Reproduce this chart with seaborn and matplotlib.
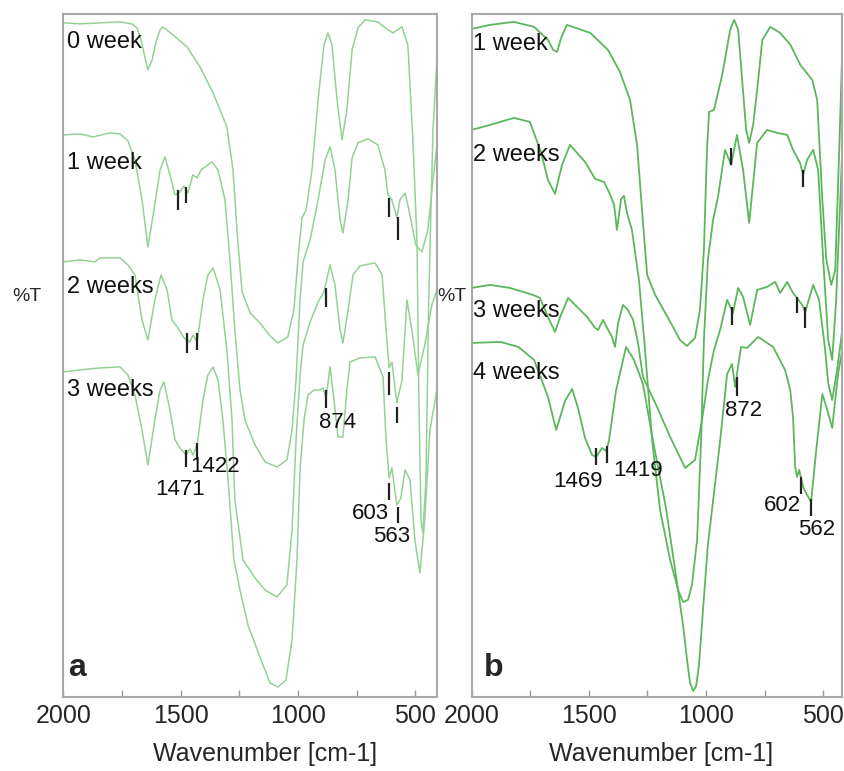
import pandas as pd
import matplotlib
matplotlib.use("Agg")
import matplotlib.pyplot as plt
import seaborn as sns

# ---- panel a : wavenumber (cm-1) / relative %T (offset traces) ----
a_labels = ["0 week", "1 week", "2 weeks", "3 weeks"]

a0_wn = [2000, 1930, 1844, 1759, 1708, 1686, 1669, 1652, 1640, 1622, 1605, 1588, 1576, 1533, 1473, 1418, 1362, 1303,
         1277, 1256, 1238, 1204, 1162, 1119, 1085, 1043, 1017, 1000, 983, 965, 940, 914, 889, 872, 855, 833, 812, 791,
         769, 744, 714, 659, 616, 594, 556, 531, 509, 492, 484, 475, 467, 454, 442, 424, 407]
a0_t = [674, 673, 674, 675, 673, 669, 657, 639, 627, 637, 655, 667, 670, 662, 650, 630, 604, 570, 527, 454, 405, 384,
        374, 361, 354, 360, 387, 437, 479, 487, 527, 597, 652, 664, 652, 597, 557, 587, 647, 669, 677, 675, 667, 664,
        670, 652, 554, 454, 297, 177, 164, 217, 397, 567, 637]

a1_wn = [2000, 1930, 1874, 1802, 1759, 1725, 1695, 1665, 1640, 1614, 1588, 1567, 1546, 1524, 1503, 1486, 1469, 1448,
         1430, 1413, 1367, 1341, 1311, 1290, 1269, 1247, 1226, 1183, 1140, 1089, 1047, 1025, 1008, 991, 978, 948, 914,
         884, 863, 842, 820, 808, 786, 769, 744, 701, 659, 629, 616, 599, 578, 565, 543, 522, 497, 471, 446, 424, 407]
a1_t = [562, 563, 560, 564, 563, 556, 537, 497, 450, 487, 527, 540, 522, 502, 505, 511, 504, 522, 519, 527, 535, 527,
        497, 437, 367, 307, 277, 252, 235, 230, 237, 267, 317, 397, 435, 457, 497, 537, 550, 527, 477, 464, 497, 539,
        554, 558, 552, 527, 502, 497, 479, 497, 504, 482, 452, 445, 467, 517, 552]

a2_wn = [2000, 1930, 1866, 1844, 1759, 1725, 1695, 1665, 1640, 1610, 1584, 1558, 1537, 1512, 1486, 1460, 1448, 1430,
         1405, 1384, 1362, 1332, 1303, 1281, 1269, 1234, 1183, 1140, 1089, 1047, 1025, 1008, 991, 978, 948, 914, 889,
         863, 842, 820, 808, 786, 765, 735, 671, 641, 624, 611, 599, 578, 556, 535, 514, 488, 459, 429, 407]
a2_t = [435, 437, 435, 439, 439, 432, 422, 377, 357, 397, 422, 407, 377, 369, 359, 355, 362, 355, 397, 422, 429, 407,
        347, 277, 197, 137, 119, 107, 100, 112, 167, 257, 322, 352, 375, 395, 405, 432, 412, 367, 354, 387, 422, 431,
        434, 422, 367, 329, 335, 294, 317, 397, 367, 322, 352, 392, 407]

a3_wn = [2000, 1930, 1844, 1759, 1725, 1695, 1665, 1640, 1610, 1588, 1571, 1546, 1524, 1503, 1477, 1460, 1448, 1430,
         1405, 1384, 1362, 1341, 1320, 1298, 1273, 1247, 1213, 1162, 1119, 1085, 1051, 1025, 1004, 991, 974, 957, 931,
         906, 893, 880, 863, 846, 829, 808, 791, 778, 735, 671, 637, 624, 611, 599, 578, 561, 543, 522, 501, 480, 459,
         437, 407]
a3_t = [325, 327, 329, 330, 322, 302, 267, 232, 277, 307, 315, 287, 257, 249, 242, 248, 242, 252, 297, 322, 330, 317,
        277, 217, 137, 107, 72, 40, 14, 10, 17, 57, 137, 227, 277, 302, 307, 307, 309, 299, 330, 297, 260, 260, 307,
        335, 339, 340, 320, 257, 219, 229, 192, 199, 227, 217, 157, 124, 177, 267, 307]

# ---- panel b ----
b_labels = ["1 week", "2 weeks", "3 weeks", "4 weeks"]

b1_wn = [2000, 1921, 1819, 1733, 1674, 1652, 1635, 1618, 1593, 1494, 1418, 1367, 1324, 1294, 1273, 1251, 1217, 1162,
         1111, 1081, 1047, 1026, 1009, 996, 987, 966, 931, 897, 880, 863, 846, 829, 816, 799, 782, 760, 726, 684, 640,
         598, 547, 526, 504, 487, 466, 449, 432, 419]
b1_t = [668, 672, 675, 670, 657, 647, 645, 659, 672, 664, 647, 625, 597, 552, 487, 422, 402, 379, 357, 351, 359, 387,
        447, 547, 585, 587, 622, 667, 677, 667, 617, 567, 554, 572, 607, 657, 670, 664, 652, 632, 617, 597, 497, 437,
        412, 427, 547, 647]

b2_wn = [2000, 1921, 1819, 1751, 1704, 1674, 1644, 1614, 1580, 1516, 1473, 1435, 1414, 1392, 1380, 1362, 1350, 1337,
         1316, 1286, 1260, 1230, 1196, 1153, 1119, 1098, 1077, 1060, 1038, 1021, 1009, 992, 970, 949, 919, 893, 868,
         842, 816, 782, 740, 697, 654, 629, 599, 586, 569, 543, 522, 501, 479, 462, 445, 419]
b2_t = [567, 572, 579, 575, 545, 517, 503, 532, 552, 535, 518, 515, 505, 492, 467, 498, 501, 484, 467, 417, 347, 257,
        187, 137, 107, 95, 97, 112, 157, 257, 357, 437, 477, 500, 547, 532, 562, 527, 474, 554, 567, 564, 562, 547,
        534, 522, 537, 547, 527, 440, 357, 337, 397, 547]

b3_wn = [2000, 1921, 1836, 1738, 1708, 1674, 1644, 1622, 1588, 1550, 1507, 1473, 1460, 1439, 1422, 1401, 1388, 1375,
         1354, 1333, 1311, 1290, 1269, 1209, 1153, 1089, 1047, 1017, 992, 966, 940, 910, 885, 863, 842, 812, 782, 740,
         705, 684, 654, 629, 612, 590, 577, 543, 518, 492, 479, 462, 441, 419]
b3_t = [409, 412, 409, 402, 399, 380, 365, 380, 399, 390, 380, 369, 367, 377, 369, 360, 350, 374, 392, 387, 377, 354,
        320, 290, 260, 229, 237, 277, 317, 347, 367, 397, 384, 409, 400, 372, 407, 410, 415, 404, 415, 404, 399, 392,
        385, 412, 397, 347, 314, 297, 327, 367]

b4_wn = [2000, 1877, 1800, 1733, 1674, 1639, 1601, 1571, 1546, 1516, 1486, 1469, 1443, 1426, 1414, 1384, 1341, 1307,
         1269, 1226, 1170, 1128, 1098, 1081, 1068, 1055, 1042, 1030, 1013, 992, 974, 940, 910, 889, 876, 851, 825, 778,
         714, 663, 641, 629, 620, 612, 603, 586, 569, 552, 530, 504, 483, 462, 437, 419]
b4_t = [354, 355, 350, 337, 300, 267, 296, 308, 289, 259, 242, 240, 249, 246, 256, 306, 350, 337, 313, 256, 188, 121,
        72, 37, 14, 6, 11, 32, 87, 152, 188, 256, 323, 333, 310, 350, 349, 360, 350, 327, 307, 280, 230, 220, 227, 210,
        202, 195, 247, 303, 287, 269, 323, 347]

# band markers: wavenumber, bottom, top
a_mark_wn = [1512, 1477, 611, 573, 1473, 1430, 880, 1477, 1430, 880, 611, 578, 611, 573]
a_mark_lo = [487, 494, 480, 457, 344, 347, 390, 230, 237, 289, 302, 274, 197, 174]
a_mark_hi = [507, 510, 499, 480, 364, 364, 409, 247, 254, 307, 325, 290, 214, 190]
b_mark_wn = [893, 586, 889, 611, 577, 1469, 1422, 867, 594, 552]
b_mark_lo = [532, 510, 372, 384, 369, 232, 234, 301, 203, 181]
b_mark_hi = [549, 527, 390, 400, 390, 249, 251, 320, 220, 198]

# band labels
a_peak_txt = ["1471", "1422", "874", "603", "563"]
a_peak_wn = [1503, 1354, 833, 692, 599]
a_peak_t = [207, 230, 274, 183, 160]
b_peak_txt = ["1469", "1419", "872", "602", "562"]
b_peak_wn = [1545, 1290, 842, 675, 530]
b_peak_t = [215, 226, 286, 191, 167]


def long_frame(labels, wns, ts):
    parts = []
    for lab, w, t in zip(labels, wns, ts):
        parts.append(pd.DataFrame({"wn": w, "T": t, "week": lab}))
    return pd.concat(parts, ignore_index=True)


df_a = long_frame(a_labels, [a0_wn, a1_wn, a2_wn, a3_wn], [a0_t, a1_t, a2_t, a3_t])
df_b = long_frame(b_labels, [b1_wn, b2_wn, b3_wn, b4_wn], [b1_t, b2_t, b3_t, b4_t])

sns.set_style("white")
plt.rcParams["font.family"] = ["Liberation Sans", "DejaVu Sans"]

fig = plt.figure(figsize=(8.45, 7.71), dpi=100)
ax_a = fig.add_axes([0.0751, 0.096, 0.442, 0.886])
ax_b = fig.add_axes([0.558, 0.096, 0.4385, 0.886])

sns.lineplot(data=df_a, x="wn", y="T", units="week", estimator=None, sort=False,
             color="#93d293", lw=1.1, ax=ax_a)
sns.lineplot(data=df_b, x="wn", y="T", units="week", estimator=None, sort=False,
             color="#5cb65c", lw=1.3, ax=ax_b)

ax_a.vlines(a_mark_wn, a_mark_lo, a_mark_hi, color="#222222", lw=1.6)
ax_b.vlines(b_mark_wn, b_mark_lo, b_mark_hi, color="#222222", lw=1.6)

for txt, w, t in zip(a_peak_txt, a_peak_wn, a_peak_t):
    ax_a.text(w, t, txt, ha="center", va="center", fontsize=16, color="#111111")
for txt, w, t in zip(b_peak_txt, b_peak_wn, b_peak_t):
    ax_b.text(w, t, txt, ha="center", va="center", fontsize=16, color="#111111")

a_lab_y = [0.959, 0.782, 0.600, 0.449]
b_lab_y = [0.956, 0.794, 0.565, 0.474]
for lab, y in zip(a_labels, a_lab_y):
    ax_a.text(0.01, y, lab, transform=ax_a.transAxes, ha="left", va="center", fontsize=17, color="#111111")
for lab, y in zip(b_labels, b_lab_y):
    ax_b.text(0.004, y, lab, transform=ax_b.transAxes, ha="left", va="center", fontsize=17, color="#111111")

ax_a.text(0.012, 0.02, "a", transform=ax_a.transAxes, ha="left", va="bottom", fontsize=23, fontweight="bold")
ax_b.text(0.034, 0.02, "b", transform=ax_b.transAxes, ha="left", va="bottom", fontsize=23, fontweight="bold")

for ax, right, lab_x in ((ax_a, 407, 0.54), (ax_b, 420, 0.511)):
    ax.set_xlim(2000, right)
    ax.set_ylim(0, 683)
    ax.set_yticks([])
    ax.set_ylabel("")
    ax.set_xticks([2000, 1500, 1000, 500])
    ax.set_xticks([1750, 1250, 750], minor=True)
    ax.tick_params(axis="x", which="both", direction="in", length=5, width=1, color="#999999",
                   bottom=True, pad=5, labelsize=18)
    ax.set_xlabel("Wavenumber [cm-1]", fontsize=18)
    ax.xaxis.set_label_coords(lab_x, -0.066)
    for sp in ax.spines.values():
        sp.set_color("#a8a8a8")
        sp.set_linewidth(1.5)

fig.text(0.014, 0.616, "%T", fontsize=14, ha="left", va="center")
fig.text(0.517, 0.616, "%T", fontsize=14, ha="left", va="center")

fig.savefig("out.png", dpi=100)
